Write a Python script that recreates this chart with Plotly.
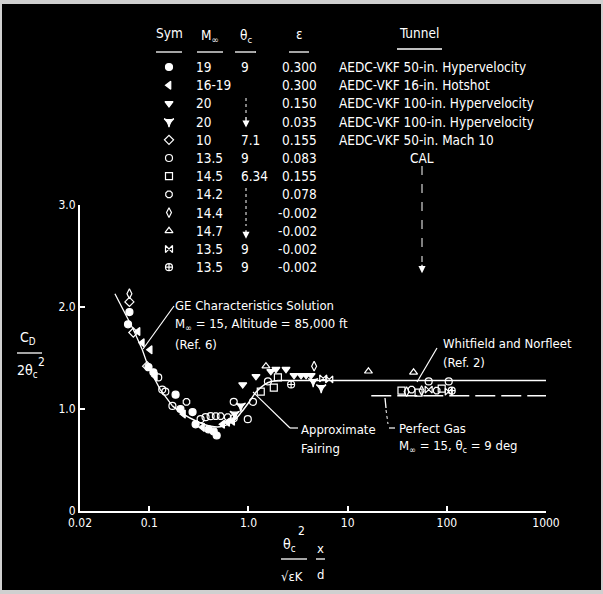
import math
import plotly.graph_objects as go

W, H = 603, 594
PL, PR, PT, PB = 80, 546, 205, 511   # plot-area edges in pixels

FONT = "DejaVu Sans Condensed, DejaVu Sans, sans-serif"

# ---------------- data ----------------
# GE characteristics solution
ge_x = [0.045, 0.069, 0.085, 0.098, 0.129, 0.171]
ge_y = [2.13, 1.78, 1.58, 1.41, 1.19, 1.03]
# approximate fairing
fair_x = [0.171, 0.22, 0.30, 0.42, 0.55, 0.70, 0.85, 1.0, 1.2, 1.45, 1.7, 2.0]
fair_y = [1.03, 0.95, 0.88, 0.83, 0.83, 0.88, 0.97, 1.06, 1.17, 1.24, 1.27, 1.28]
# Whitfield and Norfleet
wn_x = [2.0, 1000]
wn_y = [1.28, 1.28]
# Perfect gas
pg_x = [17.3, 1000]
pg_y = [1.13, 1.13]

# test data, one list pair per symbol
s1_x = [0.063, 0.061, 0.098, 0.11, 0.184, 0.206, 0.273, 0.396, 0.446, 0.478, 0.293]
s1_y = [1.95, 1.83, 1.41, 1.36, 1.14, 1.00, 0.97, 0.80, 0.78, 0.74, 0.85]
s2_x = [0.077, 0.102, 0.085, 0.221, 0.344, 0.549, 0.617, 0.693, 0.115]
s2_y = [1.76, 1.58, 1.65, 0.95, 0.82, 0.85, 0.87, 0.88, 1.32]
s3_x = [0.875, 1.19, 1.68, 1.89, 2.39, 2.88, 3.39, 3.81, 4.28]
s3_y = [1.24, 1.32, 1.37, 1.39, 1.39, 1.33, 1.33, 1.33, 1.33]
s4_x = [4.49, 5.41, 0.836, 0.726]
s4_y = [1.27, 1.21, 1.03, 0.95]
s5_x = [0.063, 0.069, 0.095]
s5_y = [2.05, 1.75, 1.42]
s6_x = [0.123, 0.135, 0.171, 0.329, 0.369, 0.415, 0.71, 0.984, 1.57, 1.11, 65.6, 104.5, 0.145]
s6_y = [1.31, 1.19, 1.03, 0.90, 0.92, 0.93, 1.07, 0.90, 1.27, 1.07, 1.27, 1.27, 1.17]
s7_x = [1.33, 1.8, 1.98, 34.9, 51.9, 88.8]
s7_y = [1.17, 1.21, 1.31, 1.18, 1.16, 1.20]
s8_x = [0.237, 0.467, 0.524, 0.617, 44.1, 79]
s8_y = [1.07, 0.93, 0.93, 0.92, 1.19, 1.18]
s9_x = [0.063, 4.59, 39.3, 55.7]
s9_y = [2.13, 1.42, 1.17, 1.18]
s10_x = [16.2, 46.2, 1.5]
s10_y = [1.37, 1.36, 1.42]
s11_x = [5.67, 6.52, 65.6, 104.5]
s11_y = [1.30, 1.29, 1.19, 1.17]
s12_x = [0.71, 112, 2.69]
s12_y = [0.91, 1.18, 1.24]

# legend table
tab_symbols = ["circle", "triangle-left", "triangle-down", "star-triangle-down",
               "diamond-open", "circle-open", "square-open", "octagon-open",
               "diamond-tall-open", "triangle-up-open", "bowtie-open", "circle-cross-open"]
tab_mach = ["19", "16-19", "20", "20", "10", "13.5", "14.5", "14.2", "14.4", "14.7", "13.5", "13.5"]
tab_theta = ["9", "", "", "", "7.1", "9", "6.34", "", "", "", "9", "9"]
tab_eps = ["0.300", "0.300", "0.150", "0.035", "0.155", "0.083", "0.155", "0.078",
           "-0.002", "-0.002", "-0.002", "-0.002"]
tab_tunnel = ["AEDC-VKF 50-in. Hypervelocity", "AEDC-VKF 16-in. Hotshot",
              "AEDC-VKF 100-in. Hypervelocity", "AEDC-VKF 100-in. Hypervelocity",
              "AEDC-VKF 50-in. Mach 10", "", "", "", "", "", "", ""]

x_tickvals = [0.02, 0.1, 1, 10, 100, 1000]
x_ticktext = ["0.02", "0.1", "1.0", "10", "100", "1000"]
y_tickvals = [0, 1, 2, 3]
y_ticktext = ["0", "1.0", "2.0", "3.0"]

series = [
    (s1_x, s1_y), (s2_x, s2_y), (s3_x, s3_y), (s4_x, s4_y), (s5_x, s5_y), (s6_x, s6_y),
    (s7_x, s7_y), (s8_x, s8_y), (s9_x, s9_y), (s10_x, s10_y), (s11_x, s11_y), (s12_x, s12_y),
]

# ---------------- helpers ----------------
def px(x):
    return x / W

def py(y):
    return 1 - y / H

shapes = []
annotations = []

def seg(x0, y0, x1, y1, w=1.2, dash="solid"):
    shapes.append(dict(type="line", xref="paper", yref="paper",
                       x0=px(x0), y0=py(y0), x1=px(x1), y1=py(y1),
                       line=dict(color="white", width=w, dash=dash)))

def txt(x, y, s, size=13, xanchor="left"):
    annotations.append(dict(xref="paper", yref="paper", x=px(x), y=py(y), text=s,
                            showarrow=False, xanchor=xanchor, yanchor="middle",
                            font=dict(family=FONT, size=size, color="white")))

def arrow_down(x, y_head, length):
    annotations.append(dict(xref="paper", yref="paper", x=px(x), y=py(y_head), text="",
                            showarrow=True, ax=0, ay=-length, arrowhead=2, arrowsize=1.1,
                            arrowwidth=1.3, arrowcolor="white"))

# ---------------- figure ----------------
fig = go.Figure()

fig.add_trace(go.Scatter(x=ge_x, y=ge_y, mode="lines", line=dict(color="white", width=1.3),
                         showlegend=False, hoverinfo="skip"))
fig.add_trace(go.Scatter(x=fair_x, y=fair_y, mode="lines",
                         line=dict(color="white", width=1.5, shape="spline"),
                         showlegend=False, hoverinfo="skip"))
fig.add_trace(go.Scatter(x=wn_x, y=wn_y, mode="lines", line=dict(color="white", width=1.6),
                         showlegend=False, hoverinfo="skip"))
fig.add_trace(go.Scatter(x=pg_x, y=pg_y, mode="lines",
                         line=dict(color="white", width=1.6, dash="20px,6px"),
                         showlegend=False, hoverinfo="skip"))

for (sx, sy), sym in zip(series, tab_symbols):
    fig.add_trace(go.Scatter(x=sx, y=sy, mode="markers", showlegend=False,
                             marker=dict(symbol=sym, size=7, color="white",
                                         line=dict(color="white", width=1.2))))

# legend-table symbols on a full-figure helper axis
row_y0, row_dy = 67, 18.2
rows_y = [row_y0 + i * row_dy for i in range(len(tab_symbols))]
fig.add_trace(go.Scatter(x=[169] * len(tab_symbols), y=rows_y, mode="markers",
                         xaxis="x2", yaxis="y2", showlegend=False, hoverinfo="skip",
                         marker=dict(symbol=tab_symbols, size=7, color="white",
                                     line=dict(color="white", width=1.2))))

TS = 13.5
# table headers
txt(169, 33, "Sym", size=TS, xanchor="center")
txt(210, 36, "M<sub>∞</sub>", size=TS, xanchor="center")
txt(246, 36, "θ<sub>c</sub>", size=TS, xanchor="center")
txt(299, 34, "ε", size=TS, xanchor="center")
txt(419, 33, "Tunnel", size=TS, xanchor="center")
for a, b, yy in [(156, 182, 52), (197, 223, 52), (235, 256, 52), (289, 309, 52), (397, 442, 49)]:
    seg(a, yy, b, yy, w=1.3)

for i, yy in enumerate(rows_y):
    txt(194, yy, tab_mach[i], size=TS)
    if tab_theta[i]:
        txt(239, yy, tab_theta[i], size=TS)
    txt(319, yy, tab_eps[i], size=TS, xanchor="right")
    if tab_tunnel[i]:
        txt(337, yy, tab_tunnel[i], size=TS)
txt(422, rows_y[5], "CAL", size=TS, xanchor="center")

# ditto marks
seg(246, 98, 246, 114, w=1.0, dash="dot")
arrow_down(246, rows_y[3] + 6, 12)
seg(246, 188, 246, 226, w=1.0, dash="dot")
arrow_down(246, rows_y[9] + 8, 10)
seg(422, 166, 422, 262, w=1.0, dash="dash")
arrow_down(422, rows_y[11] + 6, 10)

# chart annotations
txt(173, 305, "GE Characteristics Solution")
txt(173, 324, "M<sub>∞</sub> = 15, Altitude = 85,000 ft")
txt(173, 344, "(Ref. 6)")
seg(174, 306, 143, 349)

txt(441, 343, "Whitfield and Norfleet")
txt(441, 362, "(Ref. 2)")
seg(437, 348, 417, 382)

txt(299, 429, "Approximate")
txt(299, 448, "Fairing")
seg(253, 392, 290, 428)
seg(290, 428, 298, 428)

txt(397, 428, "Perfect Gas")
txt(397, 446, "M<sub>∞</sub> = 15, θ<sub>c</sub> = 9 deg")
seg(385, 398, 386, 408, w=1.3)
seg(386, 410, 388, 424, w=1.0, dash="dot")
seg(389, 428, 395, 428)

# axis titles
txt(28, 338, "C<sub>D</sub>", size=14, xanchor="center")
seg(17, 353, 42, 353, w=1.3)
txt(28, 371, "2θ<sub>c</sub>", size=14, xanchor="center")
txt(41, 362, "2", size=12, xanchor="center")

txt(289, 545, "θ<sub>c</sub>", size=14, xanchor="center")
txt(301, 531, "2", size=12, xanchor="center")
seg(281, 559, 307, 559, w=1.3)
txt(292, 576, "√εK", size=13, xanchor="center")
txt(320, 548, "x", size=13, xanchor="center")
seg(316, 559, 325, 559, w=1.3)
txt(320, 574, "d", size=13, xanchor="center")

# black page with a thin light edge
shapes.insert(0, dict(type="rect", xref="paper", yref="paper", layer="below",
                      x0=px(2), x1=px(601), y0=py(590), y1=py(4),
                      fillcolor="black", line=dict(width=0)))

axis_common = dict(showline=True, linecolor="white", linewidth=2, ticks="inside",
                   ticklen=5, tickwidth=1.5, tickcolor="white", showgrid=False,
                   zeroline=False, automargin=False,
                   tickfont=dict(family=FONT, size=12, color="white"))

fig.update_layout(
    template="none",
    width=W, height=H,
    autosize=False,
    margin=dict(l=0, r=0, t=0, b=0, pad=0),
    paper_bgcolor="#d0d0d0",
    plot_bgcolor="rgba(0,0,0,0)",
    showlegend=False,
    xaxis=dict(type="log", range=[math.log10(0.02), 3], domain=[PL / W, PR / W],
               tickvals=x_tickvals, ticktext=x_ticktext, anchor="y", **axis_common),
    yaxis=dict(range=[0, 3], domain=[1 - PB / H, 1 - PT / H],
               tickvals=y_tickvals, ticktext=y_ticktext, anchor="x", **axis_common),
    xaxis2=dict(domain=[0, 1], range=[0, W], visible=False, anchor="y2", automargin=False),
    yaxis2=dict(domain=[0, 1], range=[H, 0], visible=False, anchor="x2", automargin=False),
    shapes=shapes,
    annotations=annotations,
)

fig.write_html("out.html")
